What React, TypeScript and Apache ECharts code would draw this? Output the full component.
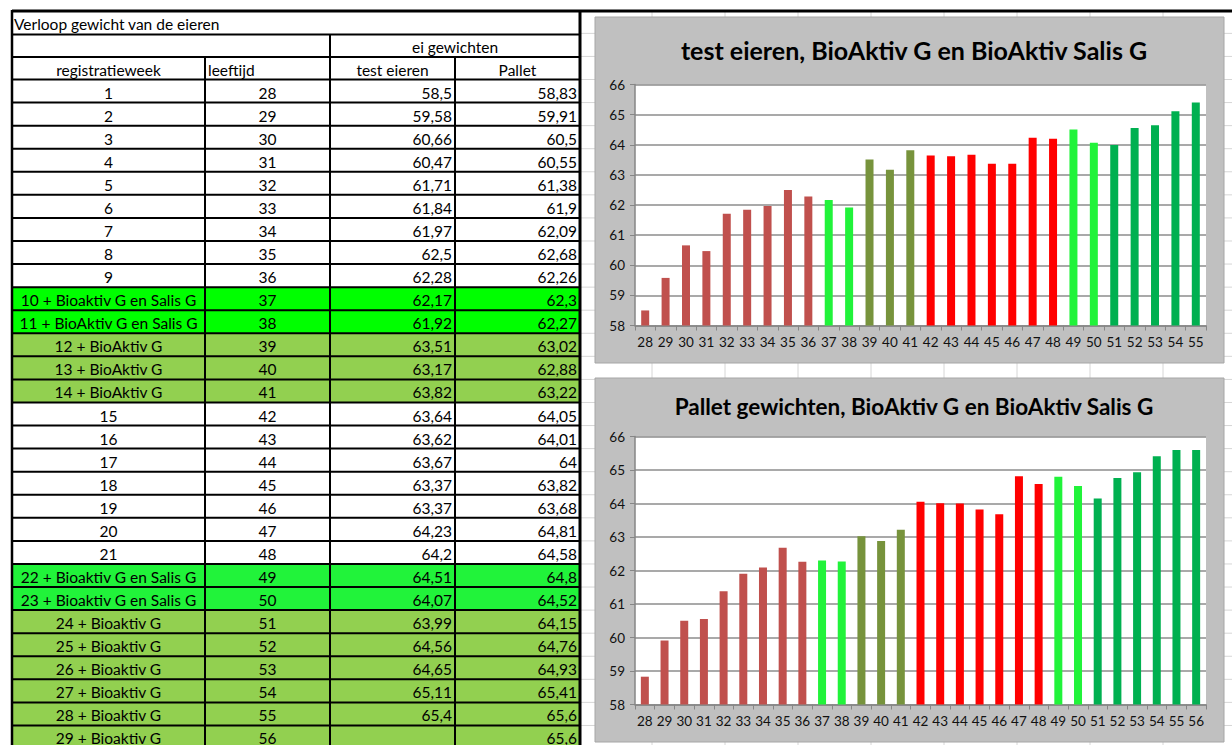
import React, { useEffect, useRef } from "react";
import * as echarts from "echarts";

// ---------- data ----------
const sheetTitle = "Verloop gewicht van de eieren";
const groupHeader = "ei gewichten";
const columnHeaders = ["registratieweek", "leeftijd", "test eieren", "Pallet"];
const registratieweek = [
  "1", "2", "3", "4", "5", "6", "7", "8", "9",
  "10 + Bioaktiv G en Salis G", "11 + BioAktiv G en Salis G",
  "12 + BioAktiv G", "13 + BioAktiv G", "14 + BioAktiv G",
  "15", "16", "17", "18", "19", "20", "21",
  "22 + Bioaktiv G en Salis G", "23 + Bioaktiv G en Salis G",
  "24 + Bioaktiv G", "25 + Bioaktiv G", "26 + Bioaktiv G", "27 + Bioaktiv G",
  "28 + Bioaktiv G", "29 + Bioaktiv G",
];
const leeftijd = [28, 29, 30, 31, 32, 33, 34, 35, 36, 37, 38, 39, 40, 41, 42, 43, 44, 45, 46, 47, 48, 49, 50, 51, 52, 53, 54, 55, 56];
const testEieren = [58.5, 59.58, 60.66, 60.47, 61.71, 61.84, 61.97, 62.5, 62.28, 62.17, 61.92, 63.51, 63.17, 63.82, 63.64, 63.62, 63.67, 63.37, 63.37, 64.23, 64.2, 64.51, 64.07, 63.99, 64.56, 64.65, 65.11, 65.4];
const pallet = [58.83, 59.91, 60.5, 60.55, 61.38, 61.9, 62.09, 62.68, 62.26, 62.3, 62.27, 63.02, 62.88, 63.22, 64.05, 64.01, 64, 63.82, 63.68, 64.81, 64.58, 64.8, 64.52, 64.15, 64.76, 64.93, 65.41, 65.6, 65.6];
// period of each week: 0 before, 1 G+Salis, 2 G, 3 without, 4 G+Salis, 5 G
const periode = [0, 0, 0, 0, 0, 0, 0, 0, 0, 1, 1, 2, 2, 2, 3, 3, 3, 3, 3, 3, 3, 4, 4, 5, 5, 5, 5, 5, 5];
const chartTitles = ["test eieren, BioAktiv G en BioAktiv Salis G", "Pallet gewichten, BioAktiv G en BioAktiv Salis G"];
const yMin = 58;
const yMax = 66;

// ---------- styles ----------
const barColors = ["#c0504d", "#21f33a", "#77933c", "#ff0000", "#21f33a", "#00b050"];
const rowFills = ["#ffffff", "#00ff00", "#92d050", "#ffffff", "#21f33a", "#92d050"];
const FONT = "Lato, 'Noto Sans', sans-serif";

const colX = [12, 205, 330, 455, 580];
const rowTop0 = 79.5;
const rowH = 23.07;

const fmt = (v: number | undefined) => (v === undefined ? "" : String(v).replace(".", ","));

function buildGraphic() {
  const g: any[] = [];
  const txt = (text: string, x: number, y: number, align: string, size = 15.5, weight = "normal") => ({
    type: "text",
    x,
    y,
    silent: true,
    style: {
      text,
      fill: "#000",
      fontSize: size,
      fontFamily: FONT,
      fontWeight: weight,
      align,
      verticalAlign: "middle",
      textAlign: align,
      textVerticalAlign: "middle",
    },
  });
  const line = (x1: number, y1: number, x2: number, y2: number, stroke: string, lw: number, z = 1) => ({
    type: "line",
    silent: true,
    z,
    shape: { x1, y1, x2, y2 },
    style: { stroke, lineWidth: lw },
  });

  // spreadsheet light grid on the right
  for (let i = -2; i < 30; i++) {
    const y = rowTop0 + i * rowH;
    g.push(line(580, y, 1232, y, "#d6d6d6", 1, -20));
  }
  for (let k = 0; k < 8; k++) {
    const x = 652 + 73 * k;
    g.push(line(x, 11, x, 745, "#d6d6d6", 1, -20));
  }

  // chart boxes
  g.push({ type: "rect", silent: true, z: -5, shape: { x: 595, y: 17, width: 629, height: 346 }, style: { fill: "#c0c0c0", stroke: "#a6a6a6", lineWidth: 1 } });
  g.push({ type: "rect", silent: true, z: -5, shape: { x: 595, y: 378, width: 629, height: 364 }, style: { fill: "#c0c0c0", stroke: "#a6a6a6", lineWidth: 1 } });

  // table fills
  registratieweek.forEach((_, i) => {
    const fill = rowFills[periode[i]];
    if (fill !== "#ffffff") {
      g.push({ type: "rect", silent: true, z: 0, shape: { x: colX[0], y: rowTop0 + i * rowH, width: colX[4] - colX[0], height: rowH }, style: { fill } });
    }
  });

  // table lines
  g.push(line(12, 11, 1232, 11, "#000", 3, 2));
  g.push(line(12, 34.5, 580, 34.5, "#000", 2, 2));
  g.push(line(12, 57, 580, 57, "#000", 2, 2));
  for (let i = 0; i < registratieweek.length; i++) {
    const y = rowTop0 + i * rowH;
    g.push(line(12, y, 580, y, "#000", 2, 2));
  }
  g.push(line(12, 10, 12, 745, "#000", 2.5, 2));
  g.push(line(205, 57, 205, 745, "#000", 2, 2));
  g.push(line(330, 34.5, 330, 745, "#000", 2, 2));
  g.push(line(455, 57, 455, 745, "#000", 2, 2));
  g.push(line(580, 10, 580, 745, "#000", 3, 2));

  // header texts
  g.push(txt(sheetTitle, 14, 24, "left"));
  g.push(txt(groupHeader, (colX[2] + colX[4]) / 2, 47, "center"));
  g.push(txt(columnHeaders[0], (colX[0] + colX[1]) / 2, 70, "center"));
  g.push(txt(columnHeaders[1], colX[1] + 3, 70, "left"));
  g.push(txt(columnHeaders[2], (colX[2] + colX[3]) / 2, 70, "center"));
  g.push(txt(columnHeaders[3], (colX[3] + colX[4]) / 2, 70, "center"));

  // data texts
  registratieweek.forEach((label, i) => {
    const y = rowTop0 + i * rowH + rowH / 2 + 1.5;
    g.push(txt(label, (colX[0] + colX[1]) / 2, y, "center"));
    g.push(txt(String(leeftijd[i]), (colX[1] + colX[2]) / 2, y, "center"));
    g.push(txt(fmt(testEieren[i]), colX[3] - 3, y, "right"));
    g.push(txt(fmt(pallet[i]), colX[4] - 3, y, "right"));
  });
  return g;
}

function axisPair(gridIndex: number, cats: number[]) {
  const x = {
    type: "category",
    gridIndex,
    data: cats.map(String),
    boundaryGap: true,
    axisLine: { show: true, lineStyle: { color: "#868686", width: 1.5 } },
    axisTick: { show: true, alignWithLabel: false, length: 5, lineStyle: { color: "#868686" } },
    axisLabel: { interval: 0, fontSize: 13.5, fontFamily: FONT, color: "#111", margin: 9 },
    splitLine: { show: false },
  };
  const y = {
    type: "value",
    gridIndex,
    min: yMin,
    max: yMax,
    interval: 1,
    axisLine: { show: true, lineStyle: { color: "#868686", width: 1.5 } },
    axisTick: { show: true, length: 5, lineStyle: { color: "#868686" } },
    axisLabel: { fontSize: 13.5, fontFamily: FONT, color: "#111", margin: 10 },
    splitLine: { show: true, lineStyle: { color: "#8c8c8c", width: 1.5 } },
  };
  return { x, y };
}

export default function App() {
  const ref = useRef<HTMLDivElement>(null);
  useEffect(() => {
    if (!ref.current) return;
    const chart = echarts.init(ref.current, null, { renderer: "svg" });
    const weeks1 = leeftijd.slice(0, testEieren.length);
    const weeks2 = leeftijd.slice(0, pallet.length);
    const a1 = axisPair(0, weeks1);
    const a2 = axisPair(1, weeks2);
    chart.setOption({
      animation: false,
      backgroundColor: "#ffffff",
      title: [
        {
          text: chartTitles[0],
          left: 909,
          top: 32,
          textAlign: "center",
          textStyle: { fontFamily: FONT, fontWeight: "bold", fontSize: 25, color: "#000" },
        },
        {
          text: chartTitles[1],
          left: 909,
          top: 390,
          textAlign: "center",
          textStyle: { fontFamily: FONT, fontWeight: "bold", fontSize: 22.5, color: "#000" },
        },
      ],
      grid: [
        { left: 635, top: 84.5, width: 571, height: 241, show: true, backgroundColor: "#ffffff", borderWidth: 0, containLabel: false },
        { left: 635, top: 436.5, width: 571, height: 268, show: true, backgroundColor: "#ffffff", borderWidth: 0, containLabel: false },
      ],
      xAxis: [a1.x, a2.x],
      yAxis: [a1.y, a2.y],
      graphic: buildGraphic(),
      series: [
        {
          type: "bar",
          xAxisIndex: 0,
          yAxisIndex: 0,
          barWidth: 8,
          data: testEieren.map((v, i) => ({ value: v, itemStyle: { color: barColors[periode[i]] } })),
        },
        {
          type: "bar",
          xAxisIndex: 1,
          yAxisIndex: 1,
          barWidth: 8,
          data: pallet.map((v, i) => ({ value: v, itemStyle: { color: barColors[periode[i]] } })),
        },
      ],
    });
    return () => chart.dispose();
  }, []);
  return (
    <div style={{ position: "absolute", left: 0, top: 0, width: 1232, height: 745, overflow: "hidden" }}>
      <div ref={ref} style={{ width: 1232, height: 745 }} />
    </div>
  );
}
